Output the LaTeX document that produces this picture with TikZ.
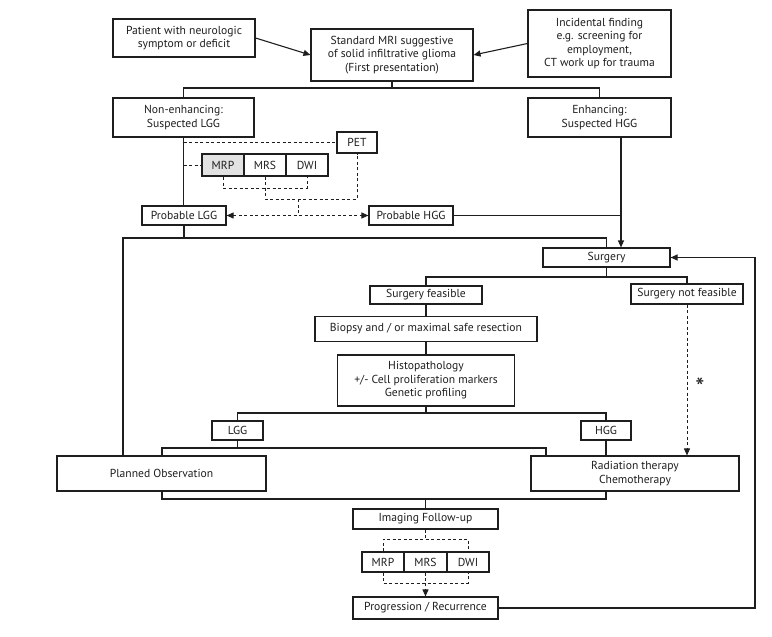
\documentclass[tikz,border=0pt]{standalone}
\usepackage{fontspec}
\setmainfont{PT Sans}
\usetikzlibrary{arrows.meta}
\definecolor{ink}{HTML}{1E1E1E}
\definecolor{mrpfill}{HTML}{E2E2E2}
\begin{document}
\begin{tikzpicture}[x=1pt,y=-1pt,
  box/.style={draw=ink, line width=1.1pt, align=center, inner sep=0pt, text=ink,
    font=\fontsize{11.6}{13.6}\selectfont},
  conn/.style={draw=ink, line width=1.1pt},
  dline/.style={draw=ink, line width=0.9pt, dash pattern=on 3pt off 2.5pt},
  arr/.style={-{Triangle[length=7pt,width=6pt]}},
  darr/.style={{Triangle[length=7pt,width=6pt]}-{Triangle[length=7pt,width=6pt]}}
]
\useasboundingbox (0,0) rectangle (772,637);

% top row
\node[box, minimum width=142pt, minimum height=38pt] (pat) at (184,38) {Patient with neurologic\\symptom or deficit};
\node[box, minimum width=162pt, minimum height=52pt] (mri) at (392,55) {Standard MRI suggestive\\of solid infiltrative glioma\\(First presentation)};
\node[box, minimum width=143pt, minimum height=67pt] (inc) at (599.5,43.5) {Incidental finding\\e.g. screening for\\employment,\\CT work up for trauma};

\node[box, minimum width=141pt, minimum height=39pt] (nonenh) at (183.5,117.5) {Non-enhancing:\\Suspected LGG};
\node[box, minimum width=143pt, minimum height=39pt] (enh) at (599.5,117.5) {Enhancing:\\Suspected HGG};

\node[box, minimum width=40pt, minimum height=21pt] (pet) at (357,142.5) {PET};
\node[box, minimum width=42pt, minimum height=22pt] (mrs1) at (265,165) {MRS};
\node[box, minimum width=42pt, minimum height=22pt] (dwi1) at (307,165) {DWI};
\node[box, line width=2.2pt, fill=mrpfill, minimum width=42pt, minimum height=22pt] (mrp1) at (223,165) {MRP};

\node[box, minimum width=84pt, minimum height=19pt] (plgg) at (184,215.5) {Probable LGG};
\node[box, minimum width=84pt, minimum height=19pt] (phgg) at (411,215.5) {Probable HGG};

\node[box, minimum width=127pt, minimum height=19pt] (surg) at (606.5,257.5) {Surgery};
\node[box, minimum width=112pt, minimum height=18pt] (sfeas) at (426,295) {Surgery feasible};
\node[box, minimum width=112pt, minimum height=20pt] (snfeas) at (687,294) {Surgery not feasible};
\node[box, minimum width=222pt, minimum height=25pt] (biopsy) at (426,329) {Biopsy and / or maximal safe resection};
\node[box, minimum width=177pt, minimum height=51pt] (histo) at (426,380.5) {Histopathology\\+/- Cell proliferation markers\\Genetic profiling};
\node[text=ink, font=\fontsize{26}{26}\selectfont] (ast) at (700,387) {*};

\node[box, minimum width=51pt, minimum height=19pt] (lgg) at (237.5,430.5) {LGG};
\node[box, minimum width=50pt, minimum height=19pt] (hgg) at (606,430.5) {HGG};
\node[box, minimum width=209pt, minimum height=35pt] (plobs) at (161.5,473.5) {Planned Observation};
\node[box, minimum width=208pt, minimum height=35pt] (rad) at (635,473.5) {Radiation therapy\\Chemotherapy};

\node[box, minimum width=145pt, minimum height=20pt] (img) at (425.5,519) {Imaging Follow-up};
\node[box, minimum width=42pt, minimum height=20pt] (mrp2) at (383,562) {MRP};
\node[box, minimum width=43pt, minimum height=20pt] (mrs2) at (425.5,562) {MRS};
\node[box, minimum width=42pt, minimum height=20pt] (dwi2) at (468,562) {DWI};
\node[box, minimum width=145pt, minimum height=22pt] (prog) at (425.5,608) {Progression / Recurrence};

% helper coordinates
\coordinate (yA) at (0,88);
\coordinate (xh) at (621,0);
\coordinate (yB) at (0,238);
\coordinate (xL) at (123,0);
\coordinate (yC) at (0,188);
\coordinate (yD) at (0,199);
\coordinate (xd) at (298,0);
\coordinate (yE) at (0,277);
\coordinate (yF) at (0,413);
\coordinate (yG) at (0,448);
\coordinate (xo) at (162,0);
\coordinate (xr) at (546,0);
\coordinate (yH) at (0,499);
\coordinate (yI) at (0,539);
\coordinate (yJ) at (0,583);
\coordinate (xR) at (755,0);

% top arrows
\draw[conn, arr] (pat.east) -- (mri.west);
\draw[conn, arr] (inc.west) -- (mri.east);

% MRI split
\draw[conn] (mri.south) -- (mri.south |- yA);
\draw[conn] (nonenh.north) |- (mri.south |- yA) -| (enh.north);

% LGG branch
\draw[conn] (nonenh.south) -- (nonenh.south |- plgg.north);
\draw[dline] (nonenh.south |- pet.west) -- (pet.west);
\draw[dline] (nonenh.south |- mrp1.west) -- (mrp1.west);
\draw[dline] (mrp1.south) -- (mrp1.south |- yC) -- (dwi1.south |- yC) -- (dwi1.south);
\draw[dline] (mrs1.south) -- (mrs1.south |- yD) -- (pet.south |- yD) -- (pet.south);
\draw[dline] (xd |- yD) -- (xd |- plgg.east);
\draw[dline, darr] (plgg.east) -- (phgg.west);

% HGG branch
\draw[conn, arr] (enh.south -| xh) -- (surg.north -| xh);
\draw[conn] (phgg.east) -- (phgg.east -| xh);

% Probable LGG to surgery / observation
\draw[conn] (plgg.south) -- (plgg.south |- yB);
\draw[conn] (plobs.north -| xL) -- (xL |- yB) -- (surg.north |- yB) -- (surg.north);

% surgery split
\draw[conn] (surg.south) -- (surg.south |- yE);
\draw[conn] (sfeas.north) |- (surg.south |- yE) -| (snfeas.north);
\draw[conn] (sfeas.south) -- (biopsy.north);
\draw[conn] (biopsy.south) -- (histo.north);
\draw[dline, arr] (snfeas.south) -- (snfeas.south |- rad.north);

% histopathology split
\draw[conn] (histo.south) -- (histo.south |- yF);
\draw[conn] (lgg.north) |- (histo.south |- yF) -| (hgg.north);
\draw[conn] (lgg.south) -- (lgg.south |- yG);
\draw[conn] (plobs.north -| xo) |- (lgg.south |- yG) -| (rad.north -| xr);
\draw[conn] (hgg.south) -- (hgg.south |- rad.north);

% to imaging follow-up
\draw[conn] (plobs.south -| xo) |- (img.north |- yH) -| (rad.south -| hgg.south);
\draw[conn] (img.north |- yH) -- (img.north);

% imaging dashed
\draw[dline] (img.south) -- (img.south |- yI);
\draw[dline] (mrp2.north) |- (img.south |- yI) -| (dwi2.north);
\draw[dline] (mrp2.south) |- (dwi2.south |- yJ) -- (dwi2.south);
\draw[dline] (mrs2.south) -- (mrs2.south |- yJ);
\draw[dline, arr] (mrs2.south |- yJ) -- (prog.north);

% return loop
\draw[conn, arr] (prog.east) -| (xR |- surg.east) -- (surg.east);
\end{tikzpicture}
\end{document}
